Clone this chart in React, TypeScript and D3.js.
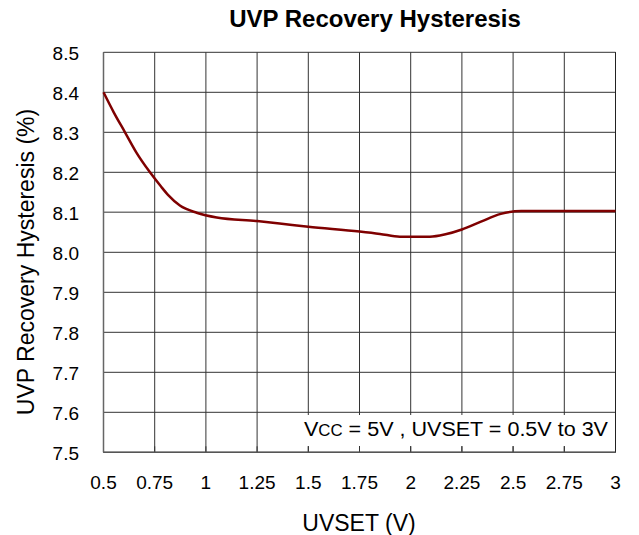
import React from "react";
import * as d3 from "d3";

const uvset = [0.5, 0.55, 0.605, 0.66, 0.727, 0.78, 0.816, 0.873, 0.955, 1.053, 1.25, 1.36, 1.5, 1.75, 1.85, 1.947, 2.094, 2.17, 2.25, 2.34, 2.44, 2.54, 2.75, 3.0];
const hysteresis = [8.4, 8.35, 8.3, 8.25, 8.2, 8.165, 8.143, 8.117, 8.099, 8.087, 8.078, 8.072, 8.064, 8.052, 8.046, 8.039, 8.039, 8.045, 8.057, 8.076, 8.096, 8.103, 8.103, 8.103];
const xTicks = [0.5, 0.75, 1, 1.25, 1.5, 1.75, 2, 2.25, 2.5, 2.75, 3];
const yTicks = [7.5, 7.6, 7.7, 7.8, 7.9, 8.0, 8.1, 8.2, 8.3, 8.4, 8.5];

export default function App() {
  const W = 639, H = 535;
  const left = 103.5, right = 615.5, top = 52.3, bottom = 452.3;
  const x = d3.scaleLinear().domain([0.5, 3]).range([left, right]);
  const y = d3.scaleLinear().domain([7.5, 8.5]).range([bottom, top]);
  const line = d3.line<number>().x((_, i) => x(uvset[i])).y((d) => y(d)).curve(d3.curveMonotoneX);
  const font = "'Liberation Sans', Arial, sans-serif";
  const xFmt = (v: number) => String(v);
  const yFmt = d3.format(".1f");
  return (
    <svg width={W} height={H} style={{ position: "absolute", left: 0, top: 0 }} fontFamily={font}>
      <rect width={W} height={H} fill="#fff" />
      <text x={375} y={27} textAnchor="middle" fontSize={24} fontWeight="bold" fill="#000">UVP Recovery Hysteresis</text>
      {yTicks.map((t) => (
        <line key={"h" + t} x1={left} x2={right} y1={y(t)} y2={y(t)} stroke={t === 8.1 ? "#777" : "#333"} strokeWidth={t === 8.1 ? 1.6 : 1} />
      ))}
      {xTicks.map((t) => (
        <line key={"v" + t} x1={x(t)} x2={x(t)} y1={top} y2={bottom} stroke="#333" strokeWidth={1} />
      ))}
      <rect x={300} y={415} width={right - 300 - 0.5} height={31} fill="#fff" />
      {xTicks.map((t) => (
        <line key={"tk" + t} x1={x(t)} x2={x(t)} y1={bottom - 6} y2={bottom} stroke="#333" strokeWidth={1} />
      ))}
      <line x1={right} x2={right} y1={top} y2={bottom} stroke="#222" strokeWidth={1} />
      <line x1={left} x2={left} y1={top} y2={bottom} stroke="#666" strokeWidth={1.5} />
      <line x1={left} x2={right} y1={bottom} y2={bottom} stroke="#555" strokeWidth={1.5} />
      <path d={line(hysteresis) || ""} fill="none" stroke="#7f0000" strokeWidth={2.5} />
      <text x={304} y={436} fontSize={20.5} fill="#000" textLength={304} lengthAdjust="spacingAndGlyphs">
        V<tspan fontSize={16}>CC</tspan> = 5V , UVSET = 0.5V to 3V
      </text>
      {yTicks.map((t) => (
        <text key={"yl" + t} x={79} y={y(t) + 7.7} textAnchor="end" fontSize={19} fill="#000">{yFmt(t)}</text>
      ))}
      {xTicks.map((t) => (
        <text key={"xl" + t} x={x(t)} y={488.5} textAnchor="middle" fontSize={19} fill="#000">{xFmt(t)}</text>
      ))}
      <text x={359} y={531} textAnchor="middle" fontSize={23} fill="#000">UVSET (V)</text>
      <text transform={`translate(33.5, 262) rotate(-90)`} textAnchor="middle" fontSize={23} fill="#000">UVP Recovery Hysteresis (%)</text>
    </svg>
  );
}
